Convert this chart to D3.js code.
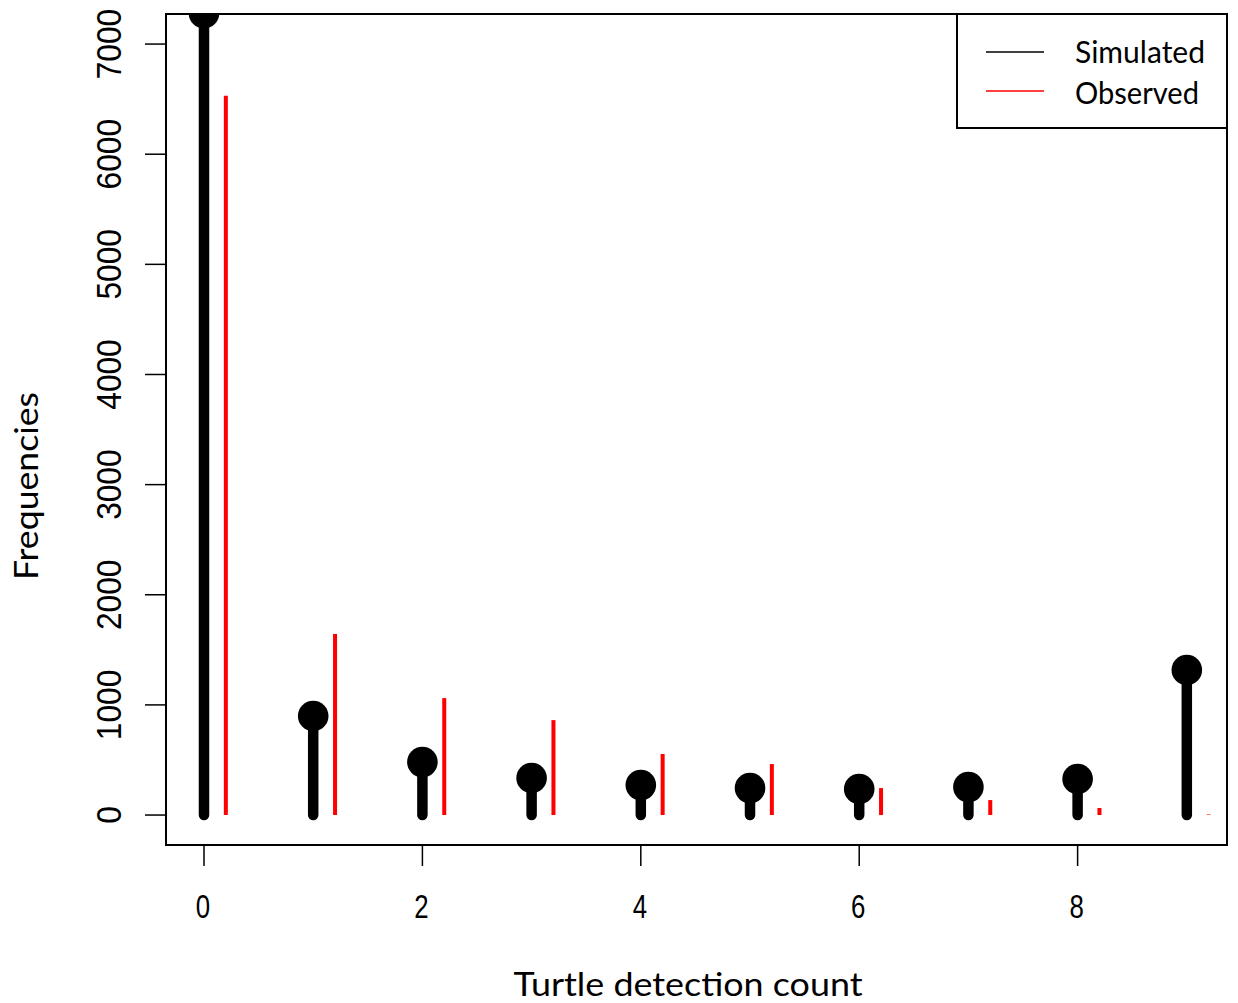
<!DOCTYPE html>
<html>
<head>
<meta charset="utf-8">
<script src="https://cdn.jsdelivr.net/npm/d3@7"></script>
<style>
  html, body { margin: 0; padding: 0; background: #fff; }
  svg { display: block; }
</style>
</head>
<body>
<script>
// Detection counts and their frequencies
const counts = [0, 1, 2, 3, 4, 5, 6, 7, 8, 9];
const simulated = [7280, 899, 481, 336, 272, 245, 236, 254, 327, 1317];
const observed = [6530, 1643, 1062, 862, 554, 463, 245, 136, 64, 5];
const xTicks = [0, 2, 4, 6, 8];
const yTicks = [0, 1000, 2000, 3000, 4000, 5000, 6000, 7000];
const legendLabels = ["Simulated", "Observed"];
const legendColors = ["#000000", "#ff0000"];

const W = 1238, H = 1003;
const box = { left: 166, right: 1227, top: 14, bottom: 845 };

const svg = d3.select("body").append("svg")
  .attr("width", W).attr("height", H);

const x = d3.scaleLinear().domain([-0.348, 9.368]).range([box.left, box.right]);
const y = d3.scaleLinear().domain([-272, 7273]).range([box.bottom, box.top]);

svg.append("defs").append("clipPath").attr("id", "plotclip")
  .append("rect")
  .attr("x", box.left).attr("y", box.top)
  .attr("width", box.right - box.left).attr("height", box.bottom - box.top);

const plot = svg.append("g").attr("clip-path", "url(#plotclip)");

// observed frequencies: thin red spikes, offset to the right of each count
plot.selectAll("line.obs").data(counts).join("line")
  .attr("class", "obs")
  .attr("x1", d => x(d + 0.2)).attr("x2", d => x(d + 0.2))
  .attr("y1", y(0)).attr("y2", (d, i) => y(observed[i]))
  .attr("stroke", legendColors[1]).attr("stroke-width", 4);

// simulated frequencies: thick black stems with a dot on top
plot.selectAll("line.sim").data(counts).join("line")
  .attr("class", "sim")
  .attr("x1", d => x(d)).attr("x2", d => x(d))
  .attr("y1", y(0)).attr("y2", (d, i) => y(simulated[i]))
  .attr("stroke", legendColors[0]).attr("stroke-width", 10.5)
  .attr("stroke-linecap", "round");

plot.selectAll("circle.sim").data(counts).join("circle")
  .attr("class", "sim")
  .attr("cx", d => x(d)).attr("cy", (d, i) => y(simulated[i]))
  .attr("r", 15.3).attr("fill", "#000");

// plot frame
svg.append("rect")
  .attr("x", box.left).attr("y", box.top)
  .attr("width", box.right - box.left).attr("height", box.bottom - box.top)
  .attr("fill", "none").attr("stroke", "#000").attr("stroke-width", 2);

// x axis
const xAxis = svg.append("g");
xAxis.selectAll("line").data(xTicks).join("line")
  .attr("x1", d => x(d)).attr("x2", d => x(d))
  .attr("y1", box.bottom).attr("y2", box.bottom + 21)
  .attr("stroke", "#000").attr("stroke-width", 1.5);
xAxis.selectAll("text").data(xTicks).join("text")
  .attr("transform", d => `translate(${x(d) - 1},${918}) scale(0.76,1)`)
  .attr("text-anchor", "middle")
  .attr("font-family", "Liberation Sans, Arial, sans-serif")
  .attr("font-size", 34)
  .attr("fill", "#000")
  .text(d => d);

// y axis
const yAxis = svg.append("g");
yAxis.selectAll("line").data(yTicks).join("line")
  .attr("x1", box.left - 21).attr("x2", box.left)
  .attr("y1", d => y(d)).attr("y2", d => y(d))
  .attr("stroke", "#000").attr("stroke-width", 1.5);
yAxis.selectAll("text").data(yTicks).join("text")
  .attr("transform", d => `translate(${121},${y(d)}) rotate(-90) scale(0.88,1)`)
  .attr("text-anchor", "middle")
  .attr("font-family", "Liberation Sans, Arial, sans-serif")
  .attr("font-size", 36)
  .attr("fill", "#000")
  .text(d => d);

// axis titles
svg.append("text")
  .attr("x", 688).attr("y", 996)
  .attr("text-anchor", "middle")
  .attr("font-family", "Lato, sans-serif")
  .attr("font-size", 33)
  .attr("textLength", 349).attr("lengthAdjust", "spacingAndGlyphs")
  .attr("fill", "#000")
  .text("Turtle detection count");

svg.append("text")
  .attr("transform", "translate(38,486) rotate(-90)")
  .attr("text-anchor", "middle")
  .attr("font-family", "Lato, sans-serif")
  .attr("font-size", 33)
  .attr("textLength", 188).attr("lengthAdjust", "spacingAndGlyphs")
  .attr("fill", "#000")
  .text("Frequencies");

// legend
const legend = svg.append("g");
legend.append("rect")
  .attr("x", 957).attr("y", box.top)
  .attr("width", box.right - 957).attr("height", 128 - box.top)
  .attr("fill", "#fff").attr("stroke", "#000").attr("stroke-width", 2);
const legendY = [52, 91];
legend.selectAll("line").data(legendLabels).join("line")
  .attr("x1", 986).attr("x2", 1044)
  .attr("y1", (d, i) => legendY[i]).attr("y2", (d, i) => legendY[i])
  .attr("stroke", (d, i) => legendColors[i]).attr("stroke-width", 1.5);
const legendWidths = [130, 124];
legend.selectAll("text").data(legendLabels).join("text")
  .attr("x", 1075).attr("y", (d, i) => legendY[i] + 11 + i * 1.5)
  .attr("font-family", "Lato, sans-serif")
  .attr("font-size", 31)
  .attr("textLength", (d, i) => legendWidths[i]).attr("lengthAdjust", "spacingAndGlyphs")
  .attr("fill", "#000")
  .text(d => d);
</script>
</body>
</html>
